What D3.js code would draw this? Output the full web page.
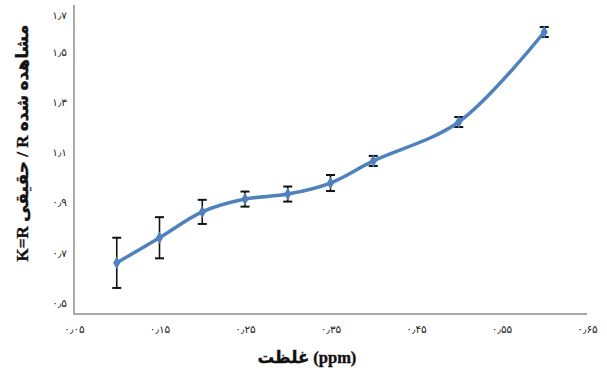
<!DOCTYPE html>
<html>
<head>
<meta charset="utf-8">
<script src="https://cdn.jsdelivr.net/npm/d3@7"></script>
<style>
  html, body { margin: 0; padding: 0; background: #fff; }
  svg { display: block; }
</style>
</head>
<body>
<script>
// ---- data ----
const concentration = [0.10, 0.15, 0.20, 0.25, 0.30, 0.35, 0.40, 0.50, 0.60];
const kValues       = [0.66, 0.76, 0.863, 0.914, 0.934, 0.978, 1.066, 1.221, 1.608];
const kErrors       = [0.10, 0.082, 0.048, 0.03, 0.03, 0.032, 0.02, 0.02, 0.027];
const xTicks = [0.05, 0.15, 0.25, 0.35, 0.45, 0.55, 0.65];
const yTicks = [0.5, 0.7, 0.9, 1.1, 1.3, 1.5, 1.7];
const xTitle = "غلظت (ppm)";
const yTitle = "K=R حقیقی / R مشاهده شده";

const W = 607, H = 378;
const svg = d3.select("body").append("svg").attr("width", W).attr("height", H);

const x = d3.scaleLinear().domain([0.05, 0.65]).range([74, 587]);
const y = d3.scaleLinear().domain([0.5, 1.5, 1.7]).range([303, 52, 15]);

const persian = s => s.replace(/[0-9]/g, d => "۰۱۲۳۴۵۶۷۸۹"[+d]).replace(".", "٫");
const fmtX = d => persian(d3.format(".2f")(d));
const fmtY = d => persian(d3.format(".1f")(d));

const axisColor = "#a9a9a9";
const labelFont = "'DejaVu Sans', sans-serif";

// axis lines
svg.append("line").attr("x1", 74).attr("x2", 74).attr("y1", 5).attr("y2", 314)
  .attr("stroke", axisColor).attr("stroke-width", 2);
svg.append("line").attr("x1", 73).attr("x2", 587).attr("y1", 314).attr("y2", 314)
  .attr("stroke", axisColor).attr("stroke-width", 2);

// y axis labels
const yAxis = d3.axisLeft(y).tickValues(yTicks).tickFormat(fmtY).tickSize(0).tickPadding(7);
const gy = svg.append("g").attr("transform", "translate(74,0)").call(yAxis);
gy.select(".domain").remove();
gy.selectAll("text").attr("font-family", labelFont).attr("font-size", 10.5).attr("fill", "#222");

// x axis labels
const xAxis = d3.axisBottom(x).tickValues(xTicks).tickFormat(fmtX).tickSize(0).tickPadding(12);
const gx = svg.append("g").attr("transform", "translate(0,314)").call(xAxis);
gx.select(".domain").remove();
gx.selectAll("text").attr("font-family", labelFont).attr("font-size", 10.5).attr("fill", "#222");

const pts = concentration.map((c, i) => ({c, k: kValues[i], e: kErrors[i]}));

// error bars
const eb = svg.append("g").attr("stroke", "#111").attr("stroke-width", 1.6);
pts.forEach(p => {
  const cx = x(p.c), t = y(p.k + p.e), b = y(p.k - p.e);
  eb.append("line").attr("x1", cx).attr("x2", cx).attr("y1", t).attr("y2", b);
  eb.append("line").attr("x1", cx - 4.5).attr("x2", cx + 4.5).attr("y1", t).attr("y2", t).attr("stroke-width", 2);
  eb.append("line").attr("x1", cx - 4.5).attr("x2", cx + 4.5).attr("y1", b).attr("y2", b).attr("stroke-width", 2);
});

// line
const blue = "#4f81bd";
const line = d3.line().x(p => x(p.c)).y(p => y(p.k)).curve(d3.curveCatmullRom.alpha(0.5));
svg.append("path").datum(pts).attr("d", line)
  .attr("fill", "none").attr("stroke", blue).attr("stroke-width", 3.5)
  .attr("stroke-linecap", "round").attr("stroke-linejoin", "round");

// markers
svg.append("g").selectAll("path").data(pts).join("path")
  .attr("transform", p => `translate(${x(p.c)},${y(p.k)})`)
  .attr("d", d3.symbol().type(d3.symbolDiamond).size(45))
  .attr("fill", blue);

// titles
svg.append("text").attr("x", 307).attr("y", 363)
  .attr("text-anchor", "middle")
  .attr("font-family", "'Liberation Serif', 'DejaVu Sans', serif")
  .attr("font-weight", "bold").attr("font-size", 16.5).attr("fill", "#111")
  .attr("stroke", "#111").attr("stroke-width", 0.35)
  .text(xTitle);

svg.append("text").attr("transform", "translate(28,143) rotate(-90)")
  .attr("text-anchor", "middle")
  .attr("font-family", "'Liberation Serif', 'DejaVu Sans', serif")
  .attr("font-weight", "bold").attr("font-size", 17).attr("fill", "#111")
  .attr("stroke", "#111").attr("stroke-width", 0.35)
  .text(yTitle);
</script>
</body>
</html>
